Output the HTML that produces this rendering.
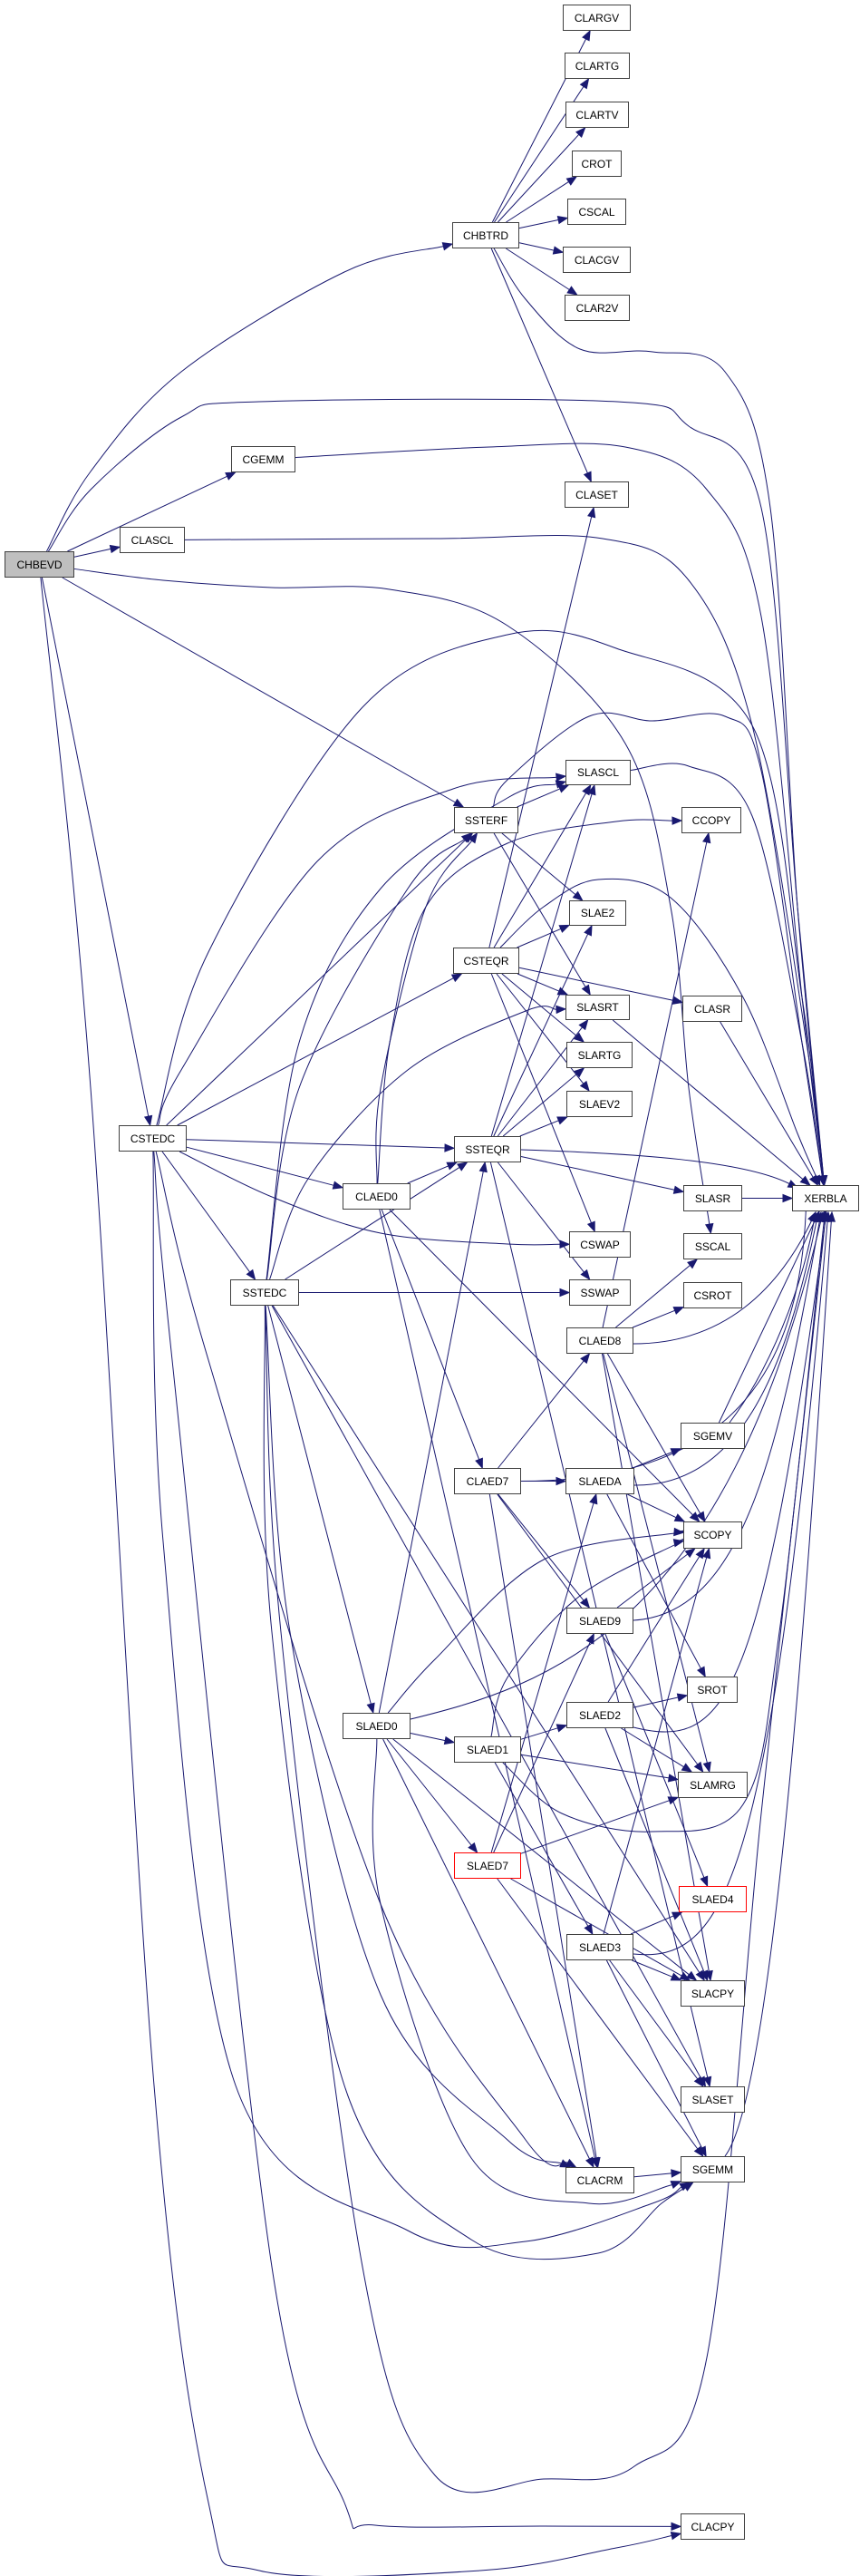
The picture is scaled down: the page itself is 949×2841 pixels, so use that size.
<!DOCTYPE html>
<html><head><meta charset="utf-8">
<style>
html,body{margin:0;padding:0;background:#fff;}
#wrap{position:relative;width:949px;height:2841px;overflow:hidden;}
svg{position:absolute;left:0;top:0;}
.n{position:absolute;box-sizing:border-box;border:1.5px solid #404040;background:#fff;font-family:"Liberation Sans",sans-serif;font-size:12px;color:#000;display:flex;align-items:center;justify-content:center;}
</style></head><body>
<div id="wrap">
<svg id="g" width="949" height="2841" viewBox="0 0 949 2841"></svg>
<div class="n" style="left:5px;top:608px;width:77px;height:29px;background:#bfbfbf">CHBEVD</div>
<div class="n" style="left:621px;top:5px;width:75px;height:29px">CLARGV</div>
<div class="n" style="left:623px;top:58px;width:72px;height:29px">CLARTG</div>
<div class="n" style="left:624px;top:112px;width:70px;height:29px">CLARTV</div>
<div class="n" style="left:631px;top:166px;width:55px;height:29px">CROT</div>
<div class="n" style="left:626px;top:219px;width:65px;height:29px">CSCAL</div>
<div class="n" style="left:499px;top:245px;width:74px;height:29px">CHBTRD</div>
<div class="n" style="left:621px;top:272px;width:75px;height:29px">CLACGV</div>
<div class="n" style="left:623px;top:325px;width:72px;height:29px">CLAR2V</div>
<div class="n" style="left:255px;top:492px;width:71px;height:29px">CGEMM</div>
<div class="n" style="left:623px;top:531px;width:71px;height:29px">CLASET</div>
<div class="n" style="left:132px;top:581px;width:72px;height:29px">CLASCL</div>
<div class="n" style="left:624px;top:838px;width:72px;height:28px">SLASCL</div>
<div class="n" style="left:501px;top:890px;width:71px;height:29px">SSTERF</div>
<div class="n" style="left:752px;top:890px;width:66px;height:29px">CCOPY</div>
<div class="n" style="left:628px;top:993px;width:63px;height:28px">SLAE2</div>
<div class="n" style="left:500px;top:1045px;width:73px;height:29px">CSTEQR</div>
<div class="n" style="left:624px;top:1097px;width:71px;height:28px">SLASRT</div>
<div class="n" style="left:753px;top:1098px;width:66px;height:29px">CLASR</div>
<div class="n" style="left:625px;top:1149px;width:73px;height:29px">SLARTG</div>
<div class="n" style="left:625px;top:1203px;width:73px;height:29px">SLAEV2</div>
<div class="n" style="left:131px;top:1241px;width:75px;height:29px">CSTEDC</div>
<div class="n" style="left:501px;top:1253px;width:74px;height:29px">SSTEQR</div>
<div class="n" style="left:378px;top:1305px;width:75px;height:29px">CLAED0</div>
<div class="n" style="left:754px;top:1307px;width:65px;height:29px">SLASR</div>
<div class="n" style="left:874px;top:1307px;width:74px;height:29px">XERBLA</div>
<div class="n" style="left:628px;top:1358px;width:68px;height:29px">CSWAP</div>
<div class="n" style="left:754px;top:1360px;width:65px;height:29px">SSCAL</div>
<div class="n" style="left:254px;top:1411px;width:76px;height:29px">SSTEDC</div>
<div class="n" style="left:628px;top:1411px;width:68px;height:29px">SSWAP</div>
<div class="n" style="left:754px;top:1414px;width:65px;height:29px">CSROT</div>
<div class="n" style="left:625px;top:1464px;width:74px;height:29px">CLAED8</div>
<div class="n" style="left:751px;top:1569px;width:71px;height:29px">SGEMV</div>
<div class="n" style="left:501px;top:1619px;width:74px;height:29px">CLAED7</div>
<div class="n" style="left:624px;top:1619px;width:76px;height:29px">SLAEDA</div>
<div class="n" style="left:754px;top:1678px;width:65px;height:30px">SCOPY</div>
<div class="n" style="left:625px;top:1773px;width:74px;height:29px">SLAED9</div>
<div class="n" style="left:758px;top:1849px;width:56px;height:29px">SROT</div>
<div class="n" style="left:625px;top:1877px;width:74px;height:29px">SLAED2</div>
<div class="n" style="left:378px;top:1889px;width:75px;height:29px">SLAED0</div>
<div class="n" style="left:501px;top:1915px;width:74px;height:29px">SLAED1</div>
<div class="n" style="left:748px;top:1954px;width:77px;height:29px">SLAMRG</div>
<div class="n" style="left:501px;top:2043px;width:74px;height:29px;border-color:#ff0000">SLAED7</div>
<div class="n" style="left:749px;top:2080px;width:75px;height:29px;border-color:#ff0000">SLAED4</div>
<div class="n" style="left:625px;top:2133px;width:74px;height:29px">SLAED3</div>
<div class="n" style="left:751px;top:2184px;width:71px;height:29px">SLACPY</div>
<div class="n" style="left:751px;top:2301px;width:71px;height:29px">SLASET</div>
<div class="n" style="left:751px;top:2378px;width:71px;height:29px">SGEMM</div>
<div class="n" style="left:624px;top:2390px;width:76px;height:29px">CLACRM</div>
<div class="n" style="left:751px;top:2772px;width:71px;height:29px">CLACPY</div>
</div>
<script>
var N={CHBEVD:[5,608,77,29],CLARGV:[621,5,75,29],CLARTG:[623,58,72,29],CLARTV:[624,112,70,29],CROT:[631,166,55,29],CSCAL:[626,219,65,29],CHBTRD:[499,245,74,29],CLACGV:[621,272,75,29],CLAR2V:[623,325,72,29],CGEMM:[255,492,71,29],CLASET:[623,531,71,29],CLASCL:[132,581,72,29],
SLASCL:[624,838,72,28],SSTERF:[501,890,71,29],CCOPY:[752,890,66,29],SLAE2:[628,993,63,28],CSTEQR:[500,1045,73,29],SLASRT:[624,1097,71,28],CLASR:[753,1098,66,29],SLARTG:[625,1149,73,29],SLAEV2:[625,1203,73,29],CSTEDC:[131,1241,75,29],SSTEQR:[501,1253,74,29],CLAED0:[378,1305,75,29],SLASR:[754,1307,65,29],XERBLA:[874,1307,74,29],CSWAP:[628,1358,68,29],SSCAL:[754,1360,65,29],
SSTEDC:[254,1411,76,29],SSWAP:[628,1411,68,29],CSROT:[754,1414,65,29],CLAED8:[625,1464,74,29],SGEMV:[751,1569,71,29],CLAED7:[501,1619,74,29],SLAEDA:[624,1619,76,29],SCOPY:[754,1678,65,30],SLAED9:[625,1773,74,29],SROT:[758,1849,56,29],SLAED2:[625,1877,74,29],SLAED0:[378,1889,75,29],SLAED1:[501,1915,74,29],SLAMRG:[748,1954,77,29],SLAED7:[501,2043,74,29],SLAED4:[749,2080,75,29],SLAED3:[625,2133,74,29],SLACPY:[751,2184,71,29],SLASET:[751,2301,71,29],SGEMM:[751,2378,71,29],CLACRM:[624,2390,76,29],CLACPY:[751,2772,71,29]};
var C='#191970',out='';
function cen(n){var b=N[n];return [b[0]+b[2]/2,b[1]+b[3]/2];}
function clip(n,tx,ty){var b=N[n],c=cen(n),dx=tx-c[0],dy=ty-c[1];if(!dx&&!dy)return c;var sx=Math.abs(dx)>0?(b[2]/2)/Math.abs(dx):1e9,sy=Math.abs(dy)>0?(b[3]/2)/Math.abs(dy):1e9,s=Math.min(sx,sy);return [c[0]+dx*s,c[1]+dy*s];}
function arrow(p,q){var dx=q[0]-p[0],dy=q[1]-p[1],l=Math.hypot(dx,dy)||1;dx/=l;dy/=l;var L=10,W=4;var bx=q[0]-dx*L,by=q[1]-dy*L;
out+='<polygon points="'+q[0].toFixed(1)+','+q[1].toFixed(1)+' '+(bx-dy*W).toFixed(1)+','+(by+dx*W).toFixed(1)+' '+(bx+dy*W).toFixed(1)+','+(by-dx*W).toFixed(1)+'" fill="'+C+'" stroke="'+C+'"/>';return [bx,by];}
function line(a,b){var p=clip(a,cen(b)[0],cen(b)[1]),q=clip(b,cen(a)[0],cen(a)[1]);var e=arrow(p,q);out+='<path d="M'+p[0].toFixed(1)+','+p[1].toFixed(1)+'L'+e[0].toFixed(1)+','+e[1].toFixed(1)+'"/>';}
function cr(pts){var d='M'+pts[0][0]+','+pts[0][1];for(var i=0;i<pts.length-1;i++){var p0=pts[i-1]||pts[i],p1=pts[i],p2=pts[i+1],p3=pts[i+2]||p2;
d+='C'+(p1[0]+(p2[0]-p0[0])/6).toFixed(1)+','+(p1[1]+(p2[1]-p0[1])/6).toFixed(1)+' '+(p2[0]-(p3[0]-p1[0])/6).toFixed(1)+','+(p2[1]-(p3[1]-p1[1])/6).toFixed(1)+' '+p2[0].toFixed(1)+','+p2[1].toFixed(1);}return d;}
function way(a,b,wps){var first=clip(a,wps[0][0],wps[0][1]);var last=wps[wps.length-1];var q=clip(b,last[0],last[1]);var e=arrow(last,q);
var pts=[first].concat(wps).concat([e]);out+='<path d="'+cr(pts)+'"/>';}
function bez(p,c1,c2,q){var e=arrow(c2,q);out+='<path d="M'+p[0]+','+p[1]+'C'+c1[0]+','+c1[1]+' '+c2[0]+','+c2[1]+' '+e[0].toFixed(1)+','+e[1].toFixed(1)+'"/>';}
function xTop(a,ox){var b=N[a];var p=[b[0]+b[2],b[1]+b[3]/2];var mx=Math.max(p[0]+40,820+ox*0.6);bez(p,[mx,p[1]],[895+ox,1307-Math.min(250,(1307-p[1])*0.6)],[898+ox,1307]);}
function xBot(a,ox){var b=N[a];var p=[b[0]+b[2],b[1]+b[3]/2];var mx=Math.max(p[0]+60,840+ox);bez(p,[mx,p[1]],[905+ox,1336+Math.min(250,(p[1]-1336)*0.6)],[908+ox,1336]);}
// CHBEVD
way('CHBEVD','CHBTRD',[[100,520],[200,410],[380,300]]);
way('CHBEVD','XERBLA',[[100,540],[200,460],[286,443],[681,443],[760,470],[840,560],[880,1000]]);
line('CHBEVD','CGEMM');line('CHBEVD','CLASCL');line('CHBEVD','SSTERF');
way('CHBEVD','SSCAL',[[180,640],[300,648],[430,650],[560,690],[690,820],[740,1000],[760,1200]]);
line('CHBEVD','CSTEDC');
way('CHBEVD','CLACPY',[[100,1200],[170,2300],[230,2760],[286,2835],[530,2835],[680,2810]]);
way('CSTEDC','CLACPY',[[190,1500],[300,2500],[380,2760],[414,2785],[600,2786]]);
// CHBTRD
['CLARGV','CLARTG','CLARTV','CROT','CSCAL','CLACGV','CLAR2V','CLASET'].forEach(function(t){line('CHBTRD',t);});
way('CHBTRD','XERBLA',[[580,330],[640,385],[720,388],[800,410],[850,560],[880,1000]]);
way('CGEMM','XERBLA',[[540,493],[690,493],[780,540],[840,680],[885,1100]]);
way('CLASCL','XERBLA',[[480,594],[665,594],[760,640],[830,800],[890,1150]]);
// CSTEDC
line('CSTEDC','SSTERF');line('CSTEDC','CSTEQR');line('CSTEDC','SSTEQR');line('CSTEDC','CLAED0');line('CSTEDC','SSTEDC');
way('CSTEDC','XERBLA',[[230,1050],[400,780],[560,700],[680,715],[830,800],[885,1100]]);
way('CSTEDC','SLASCL',[[200,1180],[350,950],[500,870]]);
way('CSTEDC','CSWAP',[[300,1320],[420,1360],[560,1372]]);
way('CSTEDC','CLACRM',[[230,1500],[420,2100],[580,2360]]);
way('CSTEDC','SGEMM',[[180,1700],[260,2300],[450,2460],[580,2472],[720,2430]]);
// SSTERF
line('SSTERF','SLASCL');line('SSTERF','SLAE2');line('SSTERF','SLASRT');
way('SSTERF','XERBLA',[[560,860],[650,790],[720,795],[800,790],[840,850],[885,1150]]);
// CSTEQR
['SLASCL','SLAE2','SLASRT','SLARTG','SLAEV2','CLASR','CSWAP','CLASET'].forEach(function(t){line('CSTEQR',t);});
way('CSTEQR','XERBLA',[[600,1000],[660,970],[740,990],[820,1100],[880,1250]]);
// SSTEQR
['SLASCL','SLAE2','SLASRT','SLARTG','SLAEV2','SLASR','SSWAP'].forEach(function(t){line('SSTEQR',t);});
bez([575,1268],[700,1272],[820,1280],[880,1310]);
line('SSTEQR','SLASET');
// CLAED0
line('CLAED0','SSTEQR');line('CLAED0','CLAED7');line('CLAED0','SCOPY');line('CLAED0','CLACRM');
way('CLAED0','CCOPY',[[430,1150],[470,1000],[560,930],[680,906]]);
way('CLAED0','SSTERF',[[420,1200],[470,1000]]);
// SSTEDC
line('SSTEDC','SSTEQR');line('SSTEDC','SSWAP');line('SSTEDC','SLAED0');line('SSTEDC','SLACPY');line('SSTEDC','SLASET');
way('SSTEDC','SSTERF',[[330,1200],[450,980]]);
way('SSTEDC','SLASCL',[[330,1150],[420,980],[560,880]]);
way('SSTEDC','SLASRT',[[340,1300],[450,1180],[580,1115]]);
way('SSTEDC','SGEMM',[[300,1800],[380,2300],[520,2470],[660,2485],[730,2430]]);
way('SSTEDC','XERBLA',[[310,1800],[400,2500],[480,2730],[600,2734],[700,2720],[780,2600],[840,2000],[905,1400]]);
way('SSTEDC','CLACRM',[[320,1800],[420,2200],[560,2360]]);
// CLAED7
line('CLAED7','CLAED8');line('CLAED7','SLAEDA');line('CLAED7','SLAED9');line('CLAED7','SLAMRG');line('CLAED7','CLACRM');
xTop('CLAED7',-8);
// CLAED8
line('CLAED8','CCOPY');line('CLAED8','CSROT');line('CLAED8','SSCAL');line('CLAED8','SCOPY');line('CLAED8','SLAMRG');line('CLAED8','SLACPY');
bez([699,1482],[800,1482],[860,1420],[900,1337]);
// SLAEDA
line('SLAEDA','SGEMV');line('SLAEDA','SCOPY');line('SLAEDA','SROT');
bez([700,1638],[820,1640],[870,1500],[903,1337]);
bez([805,1569],[850,1510],[885,1420],[900,1337]);
// SLAED9
line('SLAED9','SCOPY');line('SLAED9','SLAED4');
bez([699,1787],[820,1780],[860,1600],[906,1337]);
// SLAED0
line('SLAED0','SSTEQR');line('SLAED0','SLAED1');line('SLAED0','SLAED7');line('SLAED0','SLACPY');line('SLAED0','CLACRM');
way('SLAED0','SCOPY',[[480,1830],[600,1720],[750,1690]]);
way('SLAED0','SGEMM',[[420,2100],[520,2380],[650,2430],[740,2410]]);
bez([453,1896],[600,1860],[800,1800],[908,1337]);
// SLAED1
line('SLAED1','SLAED2');line('SLAED1','SLAED3');line('SLAED1','SLAMRG');
way('SLAED1','SCOPY',[[560,1850],[640,1760],[752,1700]]);
way('SLAED1','XERBLA',[[620,2000],[720,2020],[820,1990],[860,1800],[910,1340]]);
// SLAED7
line('SLAED7','SLAEDA');line('SLAED7','SLAED9');line('SLAED7','SLAMRG');line('SLAED7','SGEMM');line('SLAED7','SLACPY');
// SLAED2
line('SLAED2','SCOPY');line('SLAED2','SROT');line('SLAED2','SLAMRG');line('SLAED2','SLACPY');
bez([699,1905],[800,1930],[840,1880],[912,1337]);
// SLAED3
line('SLAED3','SLAED4');line('SLAED3','SLACPY');line('SLAED3','SLASET');line('SLAED3','SGEMM');line('SLAED3','SCOPY');
bez([699,2155],[800,2165],[850,2080],[914,1337]);
// misc
line('SGEMV','XERBLA');line('SLASR','XERBLA');line('CLASR','XERBLA');line('SLASRT','XERBLA');
way('SLASCL','XERBLA',[[760,845],[830,900],[885,1150]]);
line('CLACRM','SGEMM');
bez([800,2378],[860,2300],[900,1600],[918,1337]);
document.getElementById('g').innerHTML='<g fill="none" stroke="'+C+'" stroke-width="1">'+out+'</g>';
</script>
</body></html>
